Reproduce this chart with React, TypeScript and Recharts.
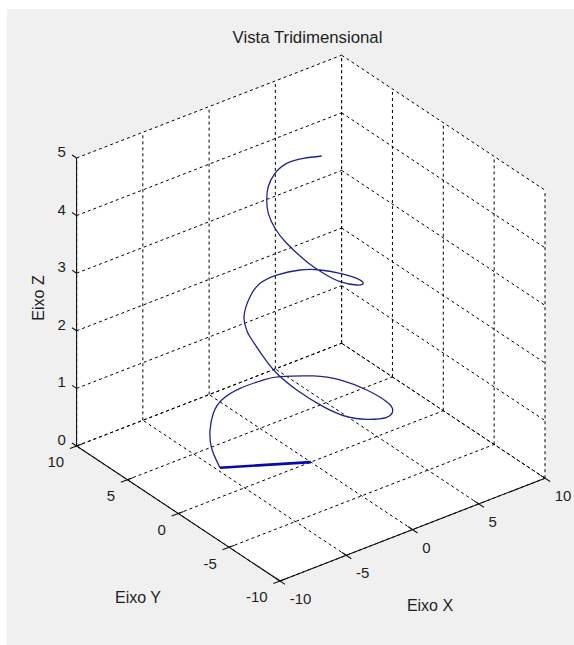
import React from "react";
import { ComposedChart, Line, XAxis, YAxis } from "recharts";

// axis ticks
const xTicks = [-10, -5, 0, 5, 10];
const yTicks = [-10, -5, 0, 5, 10];
const zTicks = [0, 1, 2, 3, 4, 5];

// helix
const helixX = [
  -4.73, -4.89, -4.81, -3.58, -2.39, -0.8, 0.74, 1.64, 3.16, 3.98, 4.41, 4.35, 3.92, 2.28, 0.36,
  -1.15, -2.29, -3.1, -3.6, -3.71, -3.53, -3.58, -3.16, -1.73, -0.58, 0.56, 1.78, 2.49, 2.95, 3.06,
  2.52, 0.97, -0.42, -1.27, -1.89, -2.35, -2.66, -2.4, -2.1, -1.28, -0.37, 0.66, 1.56, 2.4,
];
const helixY = [
  2.77, 3.38, 3.64, 4.92, 5.65, 5.91, 5.63, 5.17, 3.87, 2.31, 0.24, -1.79, -2.95, -4.49, -5.03,
  -5.03, -4.21, -2.66, -1.34, -0.16, 1.38, 1.64, 2.45, 3.72, 4.23, 4.08, 3.38, 2.33, 0.98, -0.53,
  -1.88, -3.26, -3.42, -2.89, -2.06, -0.69, 0.06, 1.05, 1.6, 2.52, 3.04, 3.23, 2.77, 2.05,
];
const helixZ = [
  0, 0.28, 0.56, 0.59, 0.63, 0.66, 0.7, 0.73, 0.76, 0.8, 0.83, 0.87, 0.9, 1.1, 1.3,
  1.48, 1.66, 1.84, 2.02, 2.18, 2.33, 2.42, 2.52, 2.59, 2.66, 2.72, 2.78, 2.84, 2.9, 2.98,
  3.1, 3.37, 3.57, 3.73, 3.89, 4.09, 4.29, 4.41, 4.55, 4.6, 4.69, 4.75, 4.81, 4.86,
];

// straight segment from the origin to the start of the helix
const radiusX = [0, -4.73];
const radiusY = [0, 2.77];
const radiusZ = [0, 0];

const W = 574;
const H = 645;
const FONT = "'Liberation Sans', Arial, Helvetica, sans-serif";

// orthographic camera, view(-37.5, 30) as it lands on this figure
const view = { ox: 310.8, oy: 462.1, xx: 13.25, xy: -5.14, yx: -10.17, yy: -6.75, zz: -57.6 };
const project = (x: number, y: number, z: number) => ({
  sx: view.ox + view.xx * x + view.yx * y,
  sy: view.oy + view.xy * x + view.yy * y + view.zz * z,
});

const x0 = xTicks[0], x1 = xTicks[xTicks.length - 1];
const y0 = yTicks[0], y1 = yTicks[yTicks.length - 1];
const z0 = zTicks[0], z1 = zTicks[zTicks.length - 1];

type P3 = [number, number, number];
const seg = (a: P3, b: P3) => [project(...a), project(...b)];

// grid on the three back planes
const gridLines: { sx: number; sy: number }[][] = [];
xTicks.forEach((x) => {
  gridLines.push(seg([x, y0, z0], [x, y1, z0]));
  gridLines.push(seg([x, y1, z0], [x, y1, z1]));
});
yTicks.forEach((y) => {
  gridLines.push(seg([x0, y, z0], [x1, y, z0]));
  gridLines.push(seg([x1, y, z0], [x1, y, z1]));
});
zTicks.forEach((z) => {
  gridLines.push(seg([x0, y1, z], [x1, y1, z]));
  gridLines.push(seg([x1, y1, z], [x1, y0, z]));
});

const axisLines = [
  seg([x0, y0, z0], [x1, y0, z0]),
  seg([x0, y0, z0], [x0, y1, z0]),
  seg([x0, y1, z0], [x0, y1, z1]),
];
const tickMarks = [
  ...xTicks.map((x) => seg([x, y0 + 0.45, z0], [x, y0 - 0.5, z0])),
  ...yTicks.map((y) => seg([x0 + 0.4, y, z0], [x0 - 0.5, y, z0])),
  ...zTicks.map((z) => seg([x0, y1, z], [x0, y1 + 0.45, z])),
];

const helix = helixX.map((x, i) => project(x, helixY[i], helixZ[i]));
const radius = radiusX.map((x, i) => project(x, radiusY[i], radiusZ[i]));

// white back faces (floor + two walls) behind the chart
const faces = [
  project(x0, y1, z1), project(x1, y1, z1), project(x1, y0, z1),
  project(x1, y0, z0), project(x0, y0, z0), project(x0, y1, z0),
].map((p) => `${p.sx},${p.sy}`).join(" ");

type Lbl = { sx: number; sy: number; text: string; anchor: string; dx: number; dy: number; size: number; rot?: number };
const tickLabels: Lbl[] = [
  ...xTicks.map((x) => ({ ...project(x, y0, z0), text: String(x), anchor: "start", dx: 9.7, dy: 17.5, size: 15 })),
  ...yTicks.map((y) => ({ ...project(x0, y, z0), text: String(y), anchor: "end", dx: -12.4, dy: 15.8, size: 15 })),
  ...zTicks.map((z) => ({ ...project(x0, y1, z), text: String(z), anchor: "end", dx: -10.8, dy: -6.6, size: 15 })),
];
const titles: Lbl[] = [
  { sx: 307.5, sy: 37, text: "Vista Tridimensional", anchor: "middle", dx: 0, dy: 0, size: 16.8 },
  { sx: 430, sy: 605, text: "Eixo X", anchor: "middle", dx: 0, dy: 0, size: 16 },
  { sx: 138, sy: 597, text: "Eixo Y", anchor: "middle", dx: 0, dy: 0, size: 16 },
  { sx: 38, sy: 298, text: "Eixo Z", anchor: "middle", dx: 0, dy: 0, size: 16, rot: -90 },
];

const renderText = (props: any) => {
  const { cx, cy, payload, index } = props;
  if (cx == null || cy == null) return null;
  const x = cx + payload.dx;
  const y = cy + payload.dy;
  return (
    <text
      key={`t-${index}-${payload.text}`}
      x={x}
      y={y}
      textAnchor={payload.anchor}
      dominantBaseline="central"
      fontFamily={FONT}
      fontSize={payload.size}
      fill="#1e1e1e"
      transform={payload.rot ? `rotate(${payload.rot} ${x} ${y})` : undefined}
    >
      {payload.text}
    </text>
  );
};

export default function App() {
  return (
    <div style={{ position: "absolute", left: 0, top: 0, width: W, height: H, background: "#fff" }}>
      <div style={{ position: "absolute", left: 7, top: 9, right: 0, bottom: 0, background: "#f0f0f0" }} />
      <svg width={W} height={H} style={{ position: "absolute", left: 0, top: 0 }}>
        <polygon points={faces} fill="#ffffff" />
      </svg>
      <div style={{ position: "absolute", left: 0, top: 0 }}>
        <ComposedChart width={W} height={H} margin={{ top: 0, right: 0, bottom: 0, left: 0 }}>
          <XAxis type="number" dataKey="sx" domain={[0, W]} hide allowDataOverflow />
          <YAxis type="number" domain={[0, H]} reversed hide allowDataOverflow />
          {gridLines.map((d, i) => (
            <Line
              key={`g${i}`}
              data={d}
              dataKey="sy"
              type="linear"
              stroke="#000"
              strokeWidth={1}
              strokeDasharray="3 3"
              dot={false}
              activeDot={false}
              isAnimationActive={false}
            />
          ))}
          {[...axisLines, ...tickMarks].map((d, i) => (
            <Line
              key={`a${i}`}
              data={d}
              dataKey="sy"
              type="linear"
              stroke="#111"
              strokeWidth={1.1}
              dot={false}
              activeDot={false}
              isAnimationActive={false}
            />
          ))}
          <Line
            data={radius}
            dataKey="sy"
            type="linear"
            stroke="#0a0aa6"
            strokeWidth={2.6}
            dot={false}
            activeDot={false}
            isAnimationActive={false}
          />
          <Line
            data={helix}
            dataKey="sy"
            type="natural"
            stroke="#22228c"
            strokeWidth={1.3}
            dot={false}
            activeDot={false}
            isAnimationActive={false}
          />
          <Line
            data={[...tickLabels, ...titles]}
            dataKey="sy"
            stroke="none"
            dot={renderText}
            activeDot={false}
            isAnimationActive={false}
          />
        </ComposedChart>
      </div>
    </div>
  );
}
